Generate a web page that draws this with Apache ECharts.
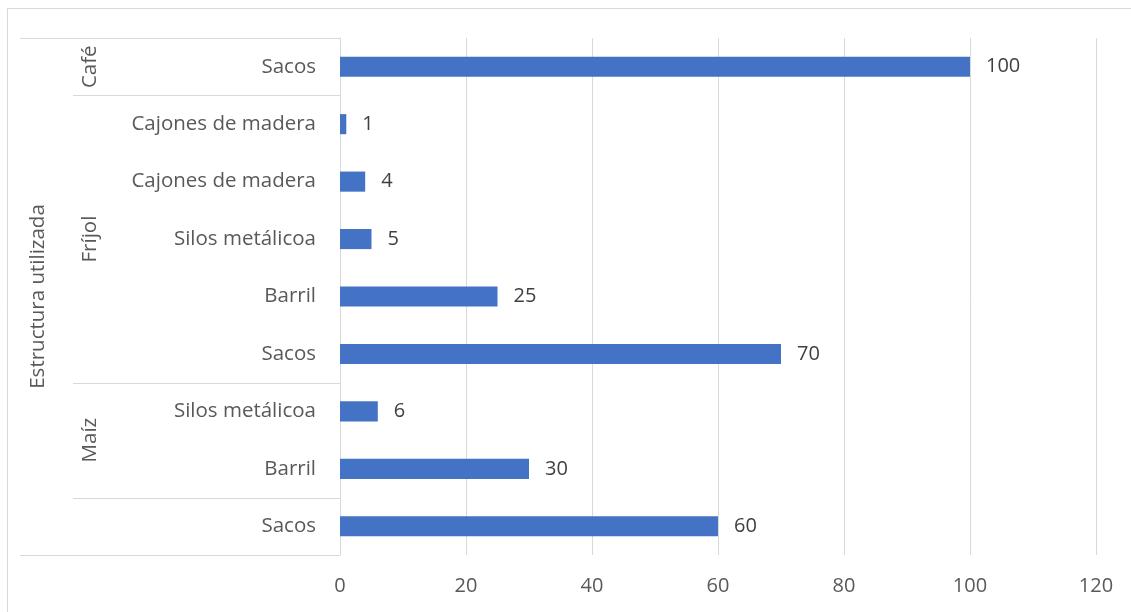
<!DOCTYPE html>
<html><head><meta charset="utf-8">
<script src="https://cdn.jsdelivr.net/npm/echarts@6/dist/echarts.min.js"></script>
<style>html,body{margin:0;padding:0;background:#fff}#c{width:1131px;height:612px}</style>
</head><body><div id="c"></div>
<script>
const categories = ['Sacos','Cajones de madera','Cajones de madera','Silos metálicoa','Barril','Sacos','Silos metálicoa','Barril','Sacos'];
const values = [100, 1, 4, 5, 25, 70, 6, 30, 60];
const groupNames = ['Café', 'Fríjol', 'Maíz', ''];
const groupSizes = [1, 5, 2, 1];
const outerTitle = 'Estructura utilizada';
const xMin = 0, xMax = 120, xStep = 20;

const FONT = '"Open Sans", "Noto Sans", sans-serif';
const TXT = '#595959';
const LINE = '#d9d9d9';
const CAT_SIZE = 20.5;
const NUM_SIZE = 20;

const chart = echarts.init(document.getElementById('c'), null, {renderer: 'canvas'});
const option = {
  animation: false,
  backgroundColor: '#fff',
  grid: {left: 340, right: 35, top: 38, bottom: 57, containLabel: false},
  xAxis: {
    type: 'value', min: xMin, max: xMax, interval: xStep,
    axisLine: {show: false}, axisTick: {show: false},
    splitLine: {show: true, lineStyle: {color: LINE, width: 1}},
    axisLabel: {color: TXT, fontSize: NUM_SIZE, fontFamily: FONT, margin: 21}
  },
  yAxis: {
    type: 'category', inverse: true, data: categories,
    axisLine: {show: true, lineStyle: {color: LINE, width: 1}},
    axisTick: {show: false},
    axisLabel: {color: TXT, fontSize: CAT_SIZE, fontFamily: FONT, margin: 24}
  },
  series: [{
    type: 'bar', data: values, barWidth: '35%',
    itemStyle: {color: '#4472C4'},
    label: {show: true, position: 'right', distance: 16, color: '#404040', fontSize: NUM_SIZE, fontFamily: FONT}
  }]
};
chart.setOption(option);

function place() {
  const yAt = i => chart.convertToPixel({yAxisIndex: 0}, i);
  const band = yAt(1) - yAt(0);
  const top = yAt(0) - band / 2;
  const bottom = yAt(categories.length - 1) + band / 2;
  const axisX = chart.convertToPixel({xAxisIndex: 0}, xMin);
  const els = [];
  const hline = (x1, x2, y) => els.push({type: 'line', silent: true, shape: {x1, y1: Math.round(y) + 0.5, x2, y2: Math.round(y) + 0.5}, style: {stroke: LINE, lineWidth: 1}});
  hline(20, axisX, top);
  hline(20, axisX, bottom);
  let start = 0;
  groupSizes.forEach((n, g) => {
    const y0 = top + start * band, y1 = top + (start + n) * band;
    if (start + n < categories.length) hline(73, axisX, y1);
    if (groupNames[g]) {
      els.push({type: 'text', silent: true, x: 90, y: (y0 + y1) / 2, rotation: Math.PI / 2,
        style: {text: groupNames[g], fill: TXT, font: CAT_SIZE + 'px ' + FONT, align: 'center', verticalAlign: 'middle'}});
    }
    start += n;
  });
  els.push({type: 'text', silent: true, x: 38, y: (top + bottom) / 2, rotation: Math.PI / 2,
    style: {text: outerTitle, fill: TXT, font: CAT_SIZE + 'px ' + FONT, align: 'center', verticalAlign: 'middle'}});
  els.push({type: 'rect', silent: true, shape: {x: 7.5, y: 8.5, width: 1140, height: 620}, style: {fill: 'none', stroke: LINE, lineWidth: 1}});
  chart.setOption({graphic: {elements: els}});
}
place();
</script></body></html>
